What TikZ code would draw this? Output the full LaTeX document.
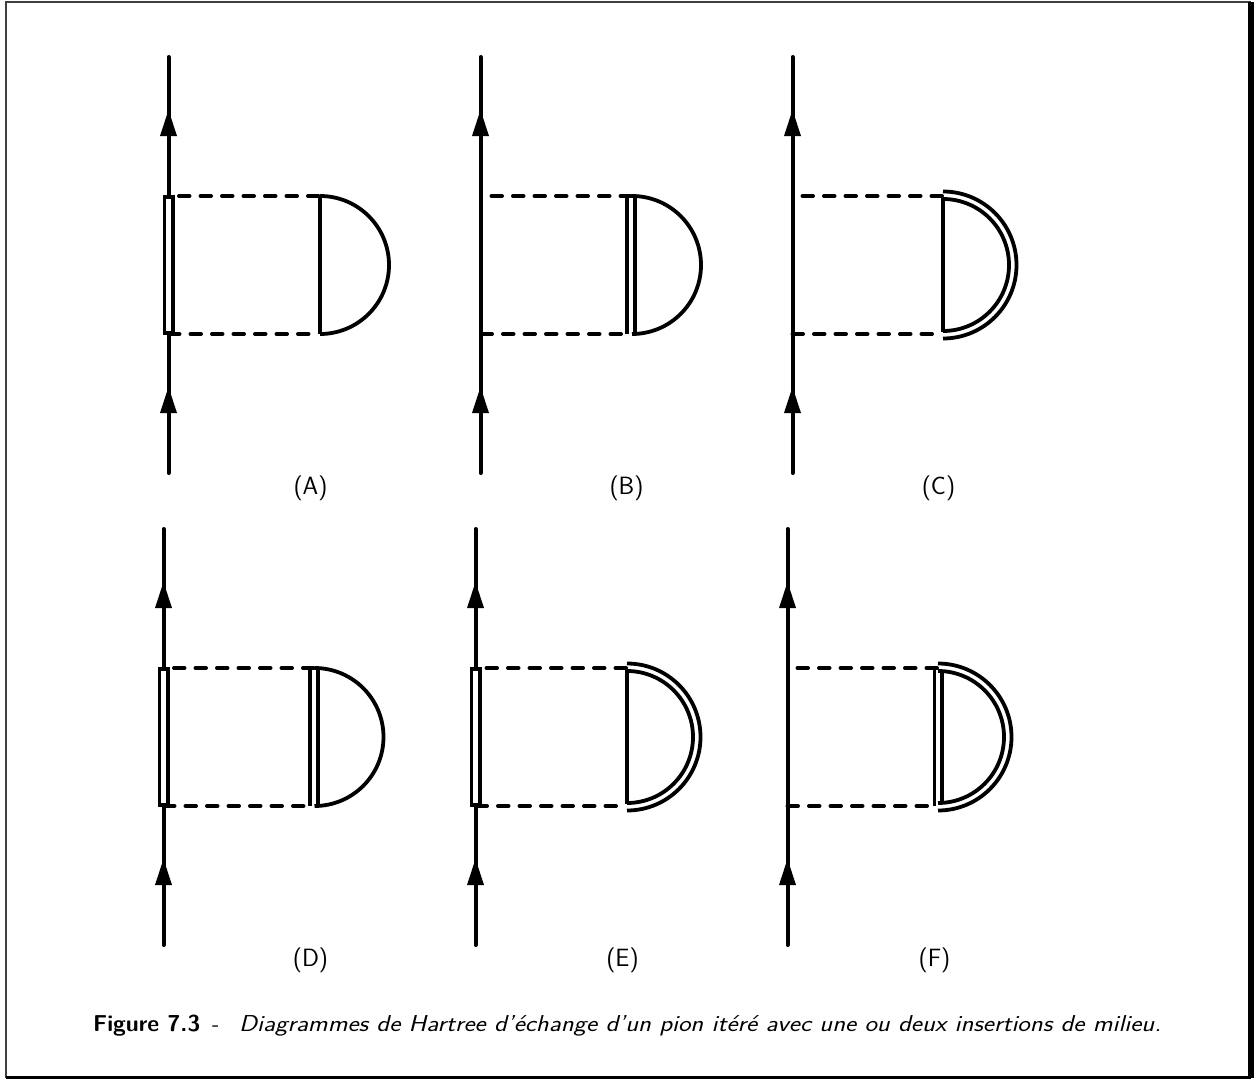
\documentclass[tikz,border=0pt]{standalone}
\usepackage{fontspec}
\tikzset{
  solid line/.style={line width=4pt,line cap=round},
  thin arc/.style={line width=3.8pt,line cap=butt},
  exchange/.style={line width=4pt,line cap=round,dash pattern=on 10.5pt off 11pt},
  insertion/.style={line width=3.4pt,fill=white,draw=black},
  label/.style={font=\sffamily\fontsize{25}{29}\selectfont,inner sep=0pt},
  caption/.style={font=\sffamily\fontsize{23}{28}\selectfont,inner sep=0pt,anchor=base west},
}
\newcommand{\fermion}[3]{%
  \coordinate (#1top) at (#2,57+#3);
  \coordinate (#1bot) at (#2,473+#3);
  \draw[solid line] (#1bot) -- (#1top);
  \fill (#2,110+#3) -- (#2-8.5,136+#3) -- (#2+8.5,136+#3) -- cycle;
  \fill (#2,387+#3) -- (#2-8.5,413+#3) -- (#2+8.5,413+#3) -- cycle;
}
\newcommand{\insertionbox}[3]{%
  \node[insertion,minimum width=8.6pt,minimum height=136pt,inner sep=0pt,outer sep=0pt] (#1box) at (#2,265+#3) {};
}
\newcommand{\exchanges}[3]{%
  \coordinate (#1ta) at (#2-140.5,196+#3);
  \coordinate (#1tb) at (#2+0,196+#3);
  \coordinate (#1ba) at (#2-150.5,334+#3);
  \coordinate (#1bb) at (#2-10.5,334+#3);
  \draw[exchange] (#1ta) -- (#1tb);
  \draw[exchange] (#1ba) -- (#1bb);
}
\newcommand{\singlearc}[3]{%
  \coordinate (#1as) at (#2,196+#3);
  \draw[thin arc] (#1as) arc[start angle=-90,end angle=90,radius=69];
}
\newcommand{\doublearc}[3]{%
  \coordinate (#1os) at (#2,191.5+#3);
  \coordinate (#1is) at (#2,199+#3);
  \draw[thin arc] (#1os) arc[start angle=-90,end angle=90,radius=73.5];
  \draw[thin arc] (#1is) arc[start angle=-90,end angle=90,radius=66];
}
\newcommand{\bubbleline}[4]{%
  \coordinate (#4a) at (#1,#2);
  \coordinate (#4b) at (#1,#3);
  \draw[thin arc] (#4a) -- (#4b);
}
\begin{document}
\begin{tikzpicture}[x=1pt,y=-1pt]
\useasboundingbox (0,0) rectangle (1254,1079);
% page frame
\coordinate (ftl) at (6,2.2);
\coordinate (ftr) at (1251,2.2);
\coordinate (fbl) at (6,1077.5);
\coordinate (fbr) at (1251,1077.5);
\draw[line width=1.6pt,draw=black!75] (fbl) -- (ftl) -- (ftr);
\draw[line width=6pt] (ftr) -- (fbr);
\draw[line width=3pt] (fbl) -- (fbr);

% (A)
\fermion{a}{168.5}{0}
\insertionbox{a}{168.7}{0}
\exchanges{a}{319.5}{0}
\bubbleline{320}{196}{334}{av}
\singlearc{a}{320}{0}
\node[label] (la) at (310.5,488) {(A)};

% (B)
\fermion{b}{480.5}{0}
\exchanges{b}{632}{0}
\bubbleline{627.3}{196}{334}{bv}
\bubbleline{634.7}{196}{334}{bw}
\singlearc{b}{632}{0}
\node[label] (lb) at (626.5,488) {(B)};

% (C)
\fermion{c}{792.5}{0}
\exchanges{c}{943}{0}
\bubbleline{943}{198}{332}{cv}
\doublearc{c}{943}{0}
\node[label] (lc) at (938.5,488) {(C)};

% (D)
\fermion{d}{163.5}{472}
\insertionbox{d}{163.7}{472}
\exchanges{d}{314.5}{472}
\bubbleline{310.3}{668}{806}{dv}
\bubbleline{317.7}{668}{806}{dw}
\singlearc{d}{314.5}{472}
\node[label] (ld) at (310.5,960) {(D)};

% (E)
\fermion{e}{475.5}{472}
\insertionbox{e}{475.7}{472}
\exchanges{e}{627}{472}
\bubbleline{627}{670}{804}{ev}
\doublearc{e}{627}{472}
\node[label] (le) at (622.5,960) {(E)};

% (F)
\fermion{f}{787.5}{472}
\exchanges{f}{938}{472}
\bubbleline{934.5}{668}{806}{fv}
\bubbleline{942}{671}{803}{fw}
\doublearc{f}{938}{472}
\node[label] (lf) at (934.5,960) {(F)};

% caption
\node[caption] (capa) at (93,1031) {\resizebox{107pt}{\height}{\bfseries Figure 7.3}};
\node[caption] (capb) at (212,1031) {-};
\node[caption] (capc) at (239,1031) {\resizebox{922pt}{\height}{\itshape Diagrammes de Hartree d'échange d'un pion itéré avec une ou deux insertions de milieu.}};
\end{tikzpicture}
\end{document}
